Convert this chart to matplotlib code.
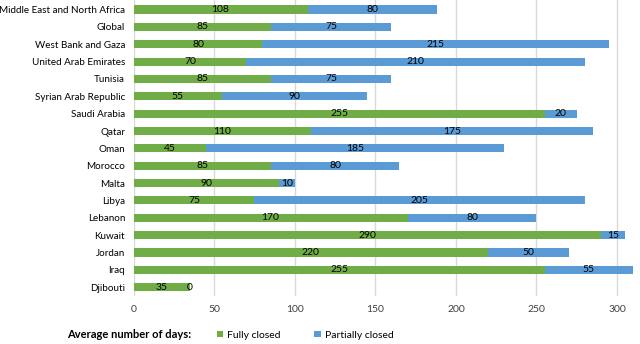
import numpy as np
import matplotlib.pyplot as plt

plt.rcParams['font.family'] = ['Lato', 'DejaVu Sans']

# Data (top to bottom as shown)
countries = ['Middle East and North Africa', 'Global', 'West Bank and Gaza',
             'United Arab Emirates', 'Tunisia', 'Syrian Arab Republic',
             'Saudi Arabia', 'Qatar', 'Oman', 'Morocco', 'Malta', 'Libya',
             'Lebanon', 'Kuwait', 'Jordan', 'Iraq', 'Djibouti']
fully_closed = [108, 85, 80, 70, 85, 55, 255, 110, 45, 85, 90, 75, 170, 290, 220, 255, 35]
partially_closed = [80, 75, 215, 210, 75, 90, 20, 175, 185, 80, 10, 205, 80, 15, 50, 55, 0]

green = '#70AD47'
blue = '#5B9BD5'

fig = plt.figure(figsize=(6.4, 3.44), dpi=100)
ax = fig.add_axes([0.2086, 0.139, 0.782, 0.861])

y = np.arange(len(countries))[::-1]
b1 = ax.barh(y, fully_closed, height=0.47, color=green, label='Fully closed', zorder=2)
b2 = ax.barh(y, partially_closed, left=fully_closed, height=0.47, color=blue,
             label='Partially closed', zorder=2)
ax.bar_label(b1, label_type='center', fontsize=7.5, color='black')
ax.bar_label(b2, label_type='center', fontsize=7.5, color='black')

ax.set_yticks(y)
ax.set_yticklabels(countries, fontsize=7.1)
ax.set_xlim(0, 310.5)
ax.set_ylim(-0.52, len(countries) - 0.45)
ax.set_xticks([0, 50, 100, 150, 200, 250, 300])
ax.tick_params(axis='x', length=0, labelsize=7.5, colors='#404040', pad=6)
ax.tick_params(axis='y', length=0, pad=6, colors='black')
ax.grid(axis='x', color='#D9D9D9', linewidth=1, zorder=0)
for s in ax.spines.values():
    s.set_visible(False)

fig.text(67 / 640, 1 - 335 / 344, 'Average number of days:', fontsize=8,
         fontweight='bold', va='center', ha='left')
fig.legend(handles=[b1, b2], loc='center left', bbox_to_anchor=(217 / 640, 1 - 335 / 344),
           ncol=2, frameon=False, fontsize=7.5, handlelength=0.6, handleheight=0.6,
           handletextpad=0.4, columnspacing=3.2, borderpad=0, borderaxespad=0)

plt.savefig('out.png', dpi=100)
